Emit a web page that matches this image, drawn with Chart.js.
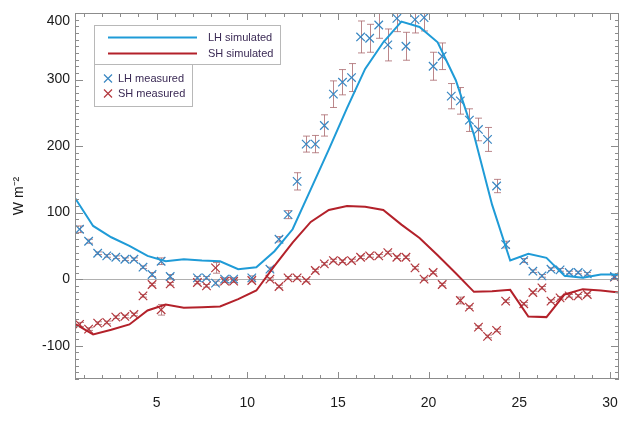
<!DOCTYPE html>
<html><head><meta charset="utf-8">
<script src="https://cdn.jsdelivr.net/npm/chart.js@4"></script>
<style>html,body{margin:0;background:#fff}#wrap{width:628px;height:433px}</style>
</head><body><div id="wrap"><canvas id="chart"></canvas></div>
<script>
// === данные: дни месяца и потоки, W m-2 ===
const simDays=[0.5,1.5,2.5,3.5,4.5,5.5,6.5,7.5,8.5,9.5,10.5,11.5,12.5,13.5,14.5,15.5,16.5,17.5,18.5,19.5,20.5,21.5,22.5,23.5,24.5,25.5,26.5,27.5,28.5,29.5,30.5];
const lhSim=[122,80,63,50,35,27,30,28,27,15,18,42,75,135,195,257,316,356,387,379,356,299,217,112,28,38,32,5,2,7,7];
const shSim=[-67,-83,-76,-68,-47,-38,-43,-42,-41,-30,-17,20,55,86,104,110,109,104,82,62,36,9,-19,-18,-16,-56,-57,-23,-15,-17,-20];

const measDays=[0.75,1.25,1.75,2.25,2.75,3.25,3.75,4.25,4.75,5.25,5.75,6.25,6.75,7.25,7.75,8.25,8.75,9.25,9.75,10.25,
  10.75,11.25,11.75,12.25,12.75,13.25,13.75,14.25,14.75,15.25,15.75,16.25,16.75,17.25,17.75,18.25,18.75,19.25,19.75,20.25,
  20.75,21.25,21.75,22.25,22.75,23.25,23.75,24.25,24.75,25.25,25.75,26.25,26.75,27.25,27.75,28.25,28.75,29.25,29.75,30.25];
const lhMeas=[75,57,39,35,33,30,30,18,7,27,4,null,null,2,2,-6,0,0,null,2,
  null,15,60,97,147,203,203,231,278,296,303,364,362,382,352,392,350,390,393,320,
  335,275,268,239,225,210,140,52,null,28,12,5,15,14,10,10,8,null,null,4];
const shMeas=[-68,-75,-66,-65,-57,-56,-53,-25,-8,-46,-7,null,null,-5,-10,17,-3,-3,null,-2,
  null,0,-11,2,2,-2,13,23,28,27,28,33,35,35,40,33,33,17,0,10,
  -8,null,-32,-42,-72,-86,-77,-33,null,-37,-20,-13,-33,-28,-25,-25,-23,null,null,3];
const lhErr=[5,3,2,2,2,2,2,2,3,5,3,null,null,2,2,3,2,2,null,3,
  null,3,4,6,13,12,13,16,20,19,21,24,21,20,24,20,21,20,20,21,
  20,19,20,17,17,18,10,5,null,3,2,2,2,2,2,2,2,null,null,3];
const shErr=[3,2,2,2,2,2,2,2,2,8,2,null,null,2,2,8,2,2,null,2,
  null,2,2,2,2,2,2,2,2,2,2,2,2,2,2,2,2,2,2,2,
  2,null,5,2,2,2,2,2,null,2,2,2,2,2,2,2,2,null,null,2];

const xTicks=[5,10,15,20,25,30];
const yTicks=[-100,0,100,200,300,400];

const pts=(xs,ys)=>xs.map((d,i)=>({x:d,y:ys[i]}));
const FONT='"Liberation Sans", Arial, sans-serif';

// === рамка и засечки внутрь (как в IDL) ===
const frameTicks={
  id:'frameTicks',
  afterDraw(chart){
    const {ctx,chartArea:a,scales:{x,y}}=chart;
    ctx.save();
    ctx.strokeStyle='#8c8c8c';ctx.lineWidth=1;
    ctx.strokeRect(a.left+.5,a.top+.5,a.right-a.left-1,a.bottom-a.top-1);
    ctx.beginPath();
    for(let d=1;d<=30;d++){
      const px=Math.round(x.getPixelForValue(d))+.5;
      const len=d%5===0?7:4;
      ctx.moveTo(px,a.bottom);ctx.lineTo(px,a.bottom-len);
      ctx.moveTo(px,a.top);ctx.lineTo(px,a.top+len);
    }
    for(let v=-150;v<=400;v+=10){
      const py=Math.round(y.getPixelForValue(v))+.5;
      const len=v%100===0?8:4;
      ctx.moveTo(a.left,py);ctx.lineTo(a.left+len,py);
      ctx.moveTo(a.right,py);ctx.lineTo(a.right-len,py);
    }
    ctx.stroke();ctx.restore();
  }
};

// === планки погрешностей ===
const errBars={
  id:'errBars',
  beforeDatasetsDraw(chart){
    const {ctx,chartArea:a,scales:{x,y}}=chart;
    ctx.save();
    ctx.beginPath();ctx.rect(a.left,a.top,a.right-a.left,a.bottom-a.top);ctx.clip();
    ctx.strokeStyle='rgba(170,105,110,0.8)';ctx.lineWidth=1;
    [[lhMeas,lhErr],[shMeas,shErr]].forEach(([vals,errs])=>{
      measDays.forEach((d,i)=>{
        if(vals[i]==null||errs[i]==null)return;
        const px=Math.round(x.getPixelForValue(d))+.5;
        const y1=y.getPixelForValue(vals[i]+errs[i]);
        const y2=y.getPixelForValue(vals[i]-errs[i]);
        ctx.beginPath();
        ctx.moveTo(px,y1);ctx.lineTo(px,y2);
        ctx.moveTo(px-3.5,y1);ctx.lineTo(px+3.5,y1);
        ctx.moveTo(px-3.5,y2);ctx.lineTo(px+3.5,y2);
        ctx.stroke();
      });
    });
    ctx.restore();
  }
};

// === легенда в двух рамках ===
const boxLegend={
  id:'boxLegend',
  afterDraw(chart){
    const {ctx}=chart;
    const ds=chart.data.datasets;
    ctx.save();
    ctx.fillStyle='#fff';
    ctx.strokeStyle='#b8b8b8';ctx.lineWidth=1;
    ctx.fillRect(94,25,186,39);ctx.strokeRect(94.5,25.5,186,39);
    ctx.fillRect(94,64,98,42);ctx.strokeRect(94.5,64.5,98,42);
    ctx.font='11px '+FONT;
    ctx.textBaseline='middle';
    [0,1].forEach((k,i)=>{
      const yy=37.5+i*16;
      ctx.strokeStyle=ds[k].borderColor;ctx.lineWidth=2;
      ctx.beginPath();ctx.moveTo(108,yy);ctx.lineTo(197,yy);ctx.stroke();
      ctx.fillStyle='#3b2a55';ctx.fillText(ds[k].label,208,yy);
    });
    [2,3].forEach((k,i)=>{
      const yy=78.5+i*15;
      ctx.strokeStyle=ds[k].borderColor;ctx.lineWidth=1.2;
      ctx.beginPath();
      ctx.moveTo(104,yy-4);ctx.lineTo(112,yy+4);
      ctx.moveTo(104,yy+4);ctx.lineTo(112,yy-4);ctx.stroke();
      ctx.fillStyle='#3b2a55';ctx.fillText(ds[k].label,118,yy);
    });
    ctx.restore();
  }
};

new Chart(document.getElementById('chart'),{
  type:'scatter',
  data:{datasets:[
    {label:'LH simulated',type:'line',data:pts(simDays,lhSim),borderColor:'#1f9bd7',borderWidth:2,pointRadius:0,tension:0,fill:false},
    {label:'SH simulated',type:'line',data:pts(simDays,shSim),borderColor:'#b3212a',borderWidth:2,pointRadius:0,tension:0,fill:false},
    {label:'LH measured',data:pts(measDays,lhMeas),borderColor:'#3886c2',backgroundColor:'#3886c2',pointStyle:'crossRot',pointRadius:6,pointBorderWidth:1.2,showLine:false},
    {label:'SH measured',data:pts(measDays,shMeas),borderColor:'#b3373d',backgroundColor:'#b3373d',pointStyle:'crossRot',pointRadius:6,pointBorderWidth:1.2,showLine:false}
  ]},
  options:{
    responsive:true,maintainAspectRatio:false,animation:false,
    layout:{padding:{top:13,right:9,bottom:0,left:0}},
    plugins:{legend:{display:false},tooltip:{enabled:false}},
    scales:{
      x:{type:'linear',min:0.5,max:30.5,
        afterBuildTicks:s=>{s.ticks=xTicks.map(v=>({value:v}));},
        afterFit:s=>{s.height=54;s.paddingLeft=0;s.paddingRight=0;},
        grid:{display:false},border:{display:false},
        ticks:{color:'#1a1a1a',padding:8,font:{size:14,family:FONT},maxRotation:0}},
      y:{min:-150,max:400,
        afterBuildTicks:s=>{s.ticks=yTicks.map(v=>({value:v}));},
        afterFit:s=>{s.width=75;s.paddingTop=0;s.paddingBottom=0;},
        grid:{drawTicks:false,color:c=>c.tick&&c.tick.value===0?'#b0b0b0':'rgba(0,0,0,0)'},
        border:{display:false},
        // верхняя подпись сдвинута вниз, внутрь рамки
        ticks:{color:'#1a1a1a',padding:5,font:{size:14,family:FONT},
          callback:v=>v===400?['',String(v)]:String(v)},
        title:{display:true,text:'W m⁻²',color:'#1a1a1a',padding:{top:11,bottom:0},font:{size:14,family:FONT}}}
    }
  },
  plugins:[errBars,frameTicks,boxLegend]
});
</script>
</body></html>
